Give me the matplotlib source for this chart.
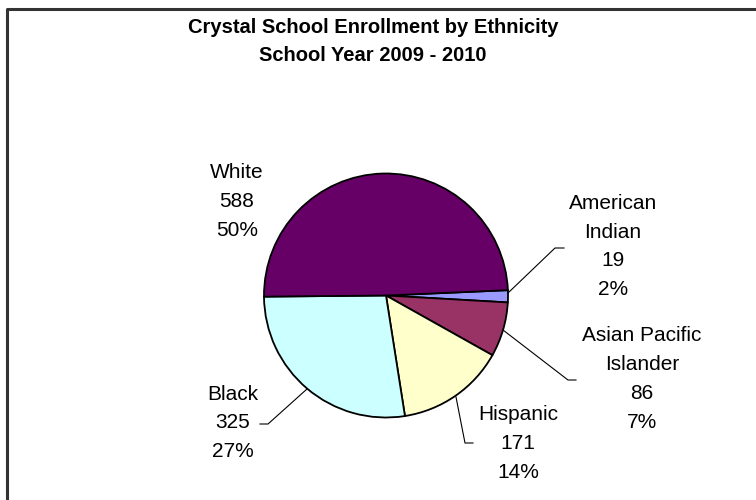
import matplotlib
matplotlib.use('Agg')
import matplotlib.pyplot as plt

plt.rcParams['font.family'] = ['Liberation Sans', 'DejaVu Sans']

# data, in the clockwise order the slices are drawn
groups = ['American\nIndian', 'Asian Pacific\nIslander', 'Hispanic', 'Black', 'White']
counts = [19, 86, 171, 325, 588]
percents = ['2%', '7%', '14%', '27%', '50%']
colors = ['#9999FF', '#993366', '#FFFFCC', '#CCFFFF', '#660066']

# label block centres and leader lines (pixel layout, y measured from top)
label_pos = [(613, 246.5), (642, 379), (518, 443.5), (233, 423), (237, 201.5)]
leaders = [
	[(508, 293), (555, 248), (564, 248)],
	[(503, 330), (568, 380), (576, 380)],
	[(456, 397), (465, 443), (473, 443)],
	[(307, 389), (268, 424), (260, 424)],
	None,
]

def main():
	fig = plt.figure(figsize=(7.56, 5.0), dpi=100)
	ax = fig.add_axes([0, 0, 1, 1])

	ax.pie(counts, colors=colors, startangle=2.5, counterclock=False,
		center=(386, 500 - 295.5), radius=122, frame=True,
		wedgeprops=dict(edgecolor='black', linewidth=1.3))
	ax.set_xlim(0, 756)
	ax.set_ylim(0, 500)
	ax.set_aspect('equal')
	ax.axis('off')

	for g, c, p, (x, y), ln in zip(groups, counts, percents, label_pos, leaders):
		ax.text(x, 500 - y, '%s\n%d\n%s' % (g, c, p), ha='center', va='center',
			fontsize=15, linespacing=1.65, color='black')
		if ln:
			ax.plot([q[0] for q in ln], [500 - q[1] for q in ln], color='black', lw=0.8)

	ax.text(373, 500 - 41.5, 'Crystal School Enrollment by Ethnicity\nSchool Year 2009 - 2010',
		ha='center', va='center', fontsize=14.5, fontweight='bold', linespacing=1.6)

	# chart frame (only top and left edges are inside the picture)
	ax.plot([6.5, 6.5, 760], [-5, 500 - 8.5, 500 - 8.5], color='#333333', lw=2.2, clip_on=False)

	fig.savefig('out.png', dpi=100)

if __name__ == '__main__':
	main()
